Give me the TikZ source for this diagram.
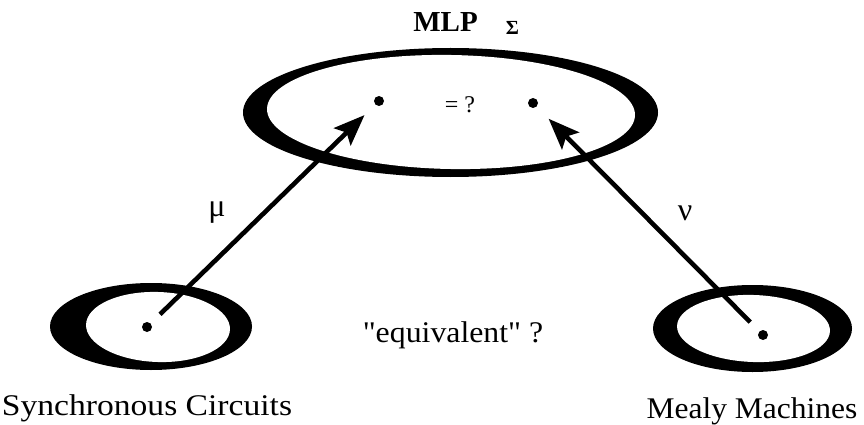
\documentclass[tikz,border=0pt]{standalone}
\usepackage{fontspec}
\usepackage{graphicx}
\setmainfont{Liberation Serif}[Ligatures=TeXOff]
\usetikzlibrary{arrows.meta}
\begin{document}
\begin{tikzpicture}[x=1pt,y=-1pt,
  dot/.style={circle,fill=black,inner sep=0pt,minimum size=10pt},
  map/.style={line width=4.6pt,-{Stealth[length=31pt,width=24pt,inset=6pt]}},
  txt/.style={inner sep=0pt,anchor=base,font=\fontsize{30}{30}\selectfont},
  greek/.style={inner sep=0pt,font=\fontsize{32}{32}\selectfont}]
\useasboundingbox (0,0) rectangle (864,425);
% thick-and-thin pen ovals: black outer, white hollow slightly tilted
\fill[black] (450.5,112.5) ellipse [x radius=207.5,y radius=64.5];
\fill[white,rotate around={-1:(451,112)}] (451,112) ellipse [x radius=184,y radius=57];
\fill[black] (151,326.5) ellipse [x radius=101,y radius=43.5];
\fill[white,rotate around={-2:(158,327)}] (158,327) ellipse [x radius=72,y radius=35];
\fill[black] (752.5,328.5) ellipse [x radius=99.5,y radius=43.5];
\fill[white,rotate around={-2:(753.5,328.5)}] (753.5,328.5) ellipse [x radius=76.5,y radius=33.5];
% points
\node[dot] (sc) at (147,327) {};
\node[dot] (mm) at (763,335) {};
\node[dot] (p1) at (379,101) {};
\node[dot] (p2) at (533,103) {};
% mappings
\draw[map,shorten <=13pt,shorten >=15pt] (sc) -- (p1);
\draw[map,shorten <=13pt,shorten >=17pt] (mm) -- (p2);
% labels
\node[txt,font=\fontsize{29}{29}\selectfont\bfseries] (mlp) at (445.5,32) {MLP};
\node[txt,font=\fontsize{20}{20}\selectfont\bfseries] (sig) at (512.5,35) {Σ};
\node[txt,font=\fontsize{24}{24}\selectfont] (eq) at (460,113) {= ?};
\node[greek] (mu) at (217,213) {μ};
\node[greek] (nu) at (685,213) {ν};
\node[txt] (equiv) at (453,342) {\scalebox{1.06}[1]{"equivalent" ?}};
\node[txt] (scl) at (147,415) {\scalebox{1.12}[1]{Synchronous Circuits}};
\node[txt] (mml) at (752,418) {\scalebox{1.05}[1]{Mealy Machines}};
\end{tikzpicture}
\end{document}
